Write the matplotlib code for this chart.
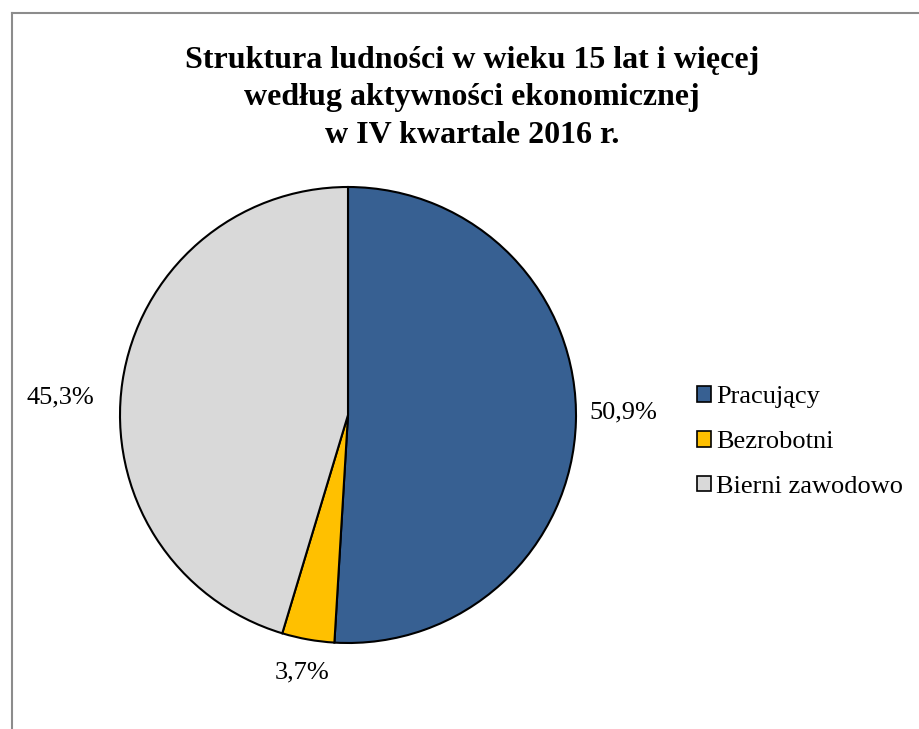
# pie chart: population 15+ by economic activity, Q4 2016
import matplotlib
matplotlib.use('Agg')
import matplotlib.pyplot as plt
from matplotlib.lines import Line2D
from matplotlib.patches import Patch

# data
categories = ['Pracujący', 'Bezrobotni', 'Bierni zawodowo']
shares = [50.9, 3.7, 45.3]
labels = ['50,9%', '3,7%', '45,3%']
colors = ['#376092', '#FFC000', '#D9D9D9']
# where the value labels sit, in pie radius units
label_xy = [(1.206, 0.009), (-0.202, -1.127), (-1.263, 0.079)]

plt.rcParams['font.family'] = ['Liberation Serif', 'DejaVu Serif']

W, H = 919, 729
fig = plt.figure(figsize=(W / 100, H / 100), dpi=100)

# frame lines (left and top only)
fig.add_artist(Line2D([11.5 / W, 11.5 / W], [0, 1 - 13 / H], color='#8c8c8c', lw=1.5))
fig.add_artist(Line2D([11.5 / W, 1], [1 - 13 / H, 1 - 13 / H], color='#8c8c8c', lw=1.5))

# title
fig.text(472 / W, 1 - 98 / H,
         'Struktura ludności w wieku 15 lat i więcej\nwedług aktywności ekonomicznej\nw IV kwartale 2016 r.',
         ha='center', va='center', fontsize=23, fontweight='bold', linespacing=1.38)

# pie axes
cx, cy, r = 348, 415, 228
ax = fig.add_axes([(cx - r) / W, (H - cy - r) / H, 2 * r / W, 2 * r / H])
wedges, _ = ax.pie(shares, colors=colors, startangle=90, counterclock=False,
                   radius=1, wedgeprops=dict(edgecolor='black', linewidth=1.5))
ax.set_xlim(-1, 1)
ax.set_ylim(-1, 1)
ax.set_aspect('equal')
ax.axis('off')

# value labels outside the slices
for lab, (x, y) in zip(labels, label_xy):
    ax.text(x, y, lab, ha='center', va='center', fontsize=19, clip_on=False)

# legend
handles = [Patch(facecolor=c, edgecolor='black', linewidth=1.2) for c in colors]
fig.legend(handles, categories, loc='center left', bbox_to_anchor=(686 / W, 1 - 442 / H),
           frameon=False, fontsize=19, handlelength=0.55, handleheight=0.55,
           handletextpad=0.2, labelspacing=0.85, borderaxespad=0)

fig.savefig('out.png', dpi=100)
